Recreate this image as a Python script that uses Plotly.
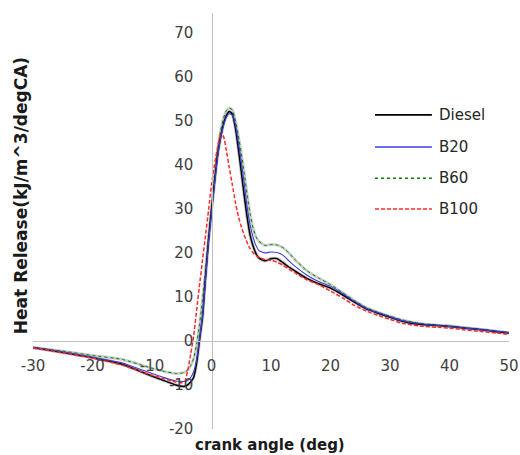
import plotly.graph_objects as go

# Crank angle grid (deg) shared by all fuels
crank_angle = [-30, -25, -20, -15, -10, -8, -6, -5, -4.5, -4, -3.5, -3, -2.5, -2, -1.5, -1, -0.5,
               0, 0.5, 1, 1.5, 2, 2.5, 3, 3.5, 4, 4.5, 5, 5.5, 6, 6.5, 7, 7.5, 8, 9, 10, 11,
               12, 13, 14, 16, 18, 20, 22, 24, 26, 28, 30, 32, 35, 38, 40, 42, 45, 48, 50]

# Heat release rate (kJ/m^3/degCA)
diesel = [-1.5, -2.6, -3.8, -5.3, -8.0, -9.0, -10.0, -10.3, -10.3, -10.0, -9.3, -8.3, -5.0, 0.3, 5.5, 14.5, 23.0,
          29.8, 36.0, 42.0, 46.0, 49.2, 51.2, 52.1, 51.5, 48.5, 43.8, 38.5, 33.0, 28.0, 24.0, 21.5, 19.8, 18.8, 18.2, 18.7, 18.7,
          17.8, 16.8, 15.9, 14.2, 13.0, 12.0, 10.5, 8.8, 7.3, 6.3, 5.4, 4.5, 3.8, 3.5, 3.3, 3.0, 2.6, 2.1, 1.8]

b20 = [-1.5, -2.5, -3.7, -5.0, -7.4, -8.3, -9.1, -9.2, -9.2, -9.0, -8.3, -7.0, -4.2, 0.5, 5.8, 14.0, 22.5,
       29.0, 35.5, 41.5, 45.8, 48.8, 50.8, 51.6, 51.3, 49.2, 45.3, 40.8, 35.8, 30.3, 26.3, 23.5, 21.6, 20.5, 20.0, 20.2, 20.1,
       19.5, 18.2, 17.0, 15.0, 13.5, 12.4, 10.8, 9.0, 7.4, 6.4, 5.5, 4.6, 3.9, 3.5, 3.3, 3.0, 2.6, 2.2, 1.9]

b60 = [-1.5, -2.3, -3.3, -4.2, -6.2, -6.9, -7.4, -7.3, -7.1, -6.6, -5.6, -4.0, -0.8, 3.8, 9.5, 16.0, 23.0,
       30.0, 37.0, 43.0, 47.5, 50.5, 52.3, 52.9, 52.5, 50.2, 46.7, 42.7, 38.2, 33.2, 28.7, 25.6, 23.6, 22.6, 21.7, 21.9, 21.8,
       21.2, 20.0, 18.5, 16.0, 14.3, 12.8, 11.0, 9.2, 7.6, 6.5, 5.6, 4.8, 4.0, 3.6, 3.4, 3.1, 2.7, 2.2, 1.9]

b100 = [-1.6, -2.7, -3.9, -5.5, -7.8, -8.6, -9.3, -9.5, -9.2, -6.8, -3.0, 1.1, 7.0, 12.8, 18.5, 24.0, 29.7,
        35.5, 40.0, 43.8, 46.8, 46.5, 43.2, 39.3, 35.5, 31.6, 28.4, 26.0, 24.0, 22.3, 20.9, 20.0, 19.4, 19.0, 18.5, 18.3, 17.9,
        17.2, 16.3, 15.5, 13.9, 12.8, 11.3, 9.8, 8.1, 6.8, 5.8, 4.9, 4.0, 3.4, 3.1, 2.9, 2.6, 2.2, 1.8, 1.5]

series_names = ["Diesel", "B20", "B60", "B100"]
series_values = [diesel, b20, b60, b100]
series_colors = ["#000000", "#3c3cdc", "#0a7a0a", "#ff2a2a"]
series_dash = ["solid", "solid", "dot", "4px,2px"]
series_width = [1.5, 1.1, 1.0, 1.5]

x_ticks = [-30, -20, -10, 0, 10, 20, 30, 40, 50]
y_ticks = [-20, -10, 0, 10, 20, 30, 40, 50, 60, 70]

X_RANGE = [-30, 50]
Y_RANGE = [-20, 74.5]

fig = go.Figure()

# soft grey halo under the diesel and B60 curves
for vals, col, w in [(b60, "rgba(165,175,165,0.6)", 2.8), (diesel, "rgba(120,120,120,0.45)", 3.2)]:
    fig.add_trace(go.Scatter(x=crank_angle, y=vals, mode="lines", hoverinfo="skip", showlegend=False,
                             line=dict(color=col, width=w, shape="spline", smoothing=0.5)))

draw_order = [2, 0, 1, 3]
for i in draw_order:
    fig.add_trace(go.Scatter(
        x=crank_angle, y=series_values[i], mode="lines", name=series_names[i], showlegend=False,
        line=dict(color=series_colors[i], width=series_width[i], dash=series_dash[i],
                  shape="spline", smoothing=0.5)))

# hand-built legend on the right side of the plot
legend_y = [0.755, 0.678, 0.603, 0.529]
legend_width = [1.8, 1.4, 1.5, 1.6]
for i, name in enumerate(series_names):
    fig.add_shape(type="line", xref="paper", yref="paper", x0=0.7185, x1=0.838,
                  y0=legend_y[i], y1=legend_y[i],
                  line=dict(color=series_colors[i], width=legend_width[i], dash=series_dash[i]))
    fig.add_annotation(xref="paper", yref="paper", x=0.849, y=legend_y[i], text=name,
                       showarrow=False, xanchor="left", yanchor="middle",
                       font=dict(family="DejaVu Sans", size=15, color="#262626"))

axis_font = dict(family="DejaVu Sans", size=15, color="#404040")

fig.update_layout(
    width=520, height=455,
    margin=dict(l=33, r=11, t=13, b=26),
    paper_bgcolor="white", plot_bgcolor="white",
    showlegend=False,
    xaxis=dict(range=X_RANGE, tickvals=x_ticks, ticktext=[str(v) for v in x_ticks],
               showgrid=False, zeroline=False, showline=True, linecolor="#bfbfbf", linewidth=1.2,
               anchor="free", position=(0 - Y_RANGE[0]) / (Y_RANGE[1] - Y_RANGE[0]),
               ticks="", ticklabelstandoff=11, tickfont=axis_font, automargin=False),
    yaxis=dict(range=Y_RANGE, tickvals=y_ticks, ticktext=[str(v) for v in y_ticks],
               showgrid=False, zeroline=False, showline=True, linecolor="#bfbfbf", linewidth=1.2,
               anchor="free", position=(0 - X_RANGE[0]) / (X_RANGE[1] - X_RANGE[0]),
               ticks="", ticklabelstandoff=15, tickfont=axis_font, automargin=False),
    annotations=list(fig.layout.annotations) + [
        dict(xref="paper", yref="paper", x=-0.025, y=0.56, text="<b>Heat Release(kJ/m^3/degCA)</b>",
             textangle=-90, showarrow=False, xanchor="center", yanchor="middle",
             font=dict(family="DejaVu Sans", size=17, color="#1a1a1a")),
        dict(xref="paper", yref="paper", x=0.498, y=-0.0385, text="<b>crank angle (deg)</b>",
             showarrow=False, xanchor="center", yanchor="middle",
             font=dict(family="DejaVu Sans", size=15, color="#1a1a1a")),
    ],
)

fig.write_html("out.html")
